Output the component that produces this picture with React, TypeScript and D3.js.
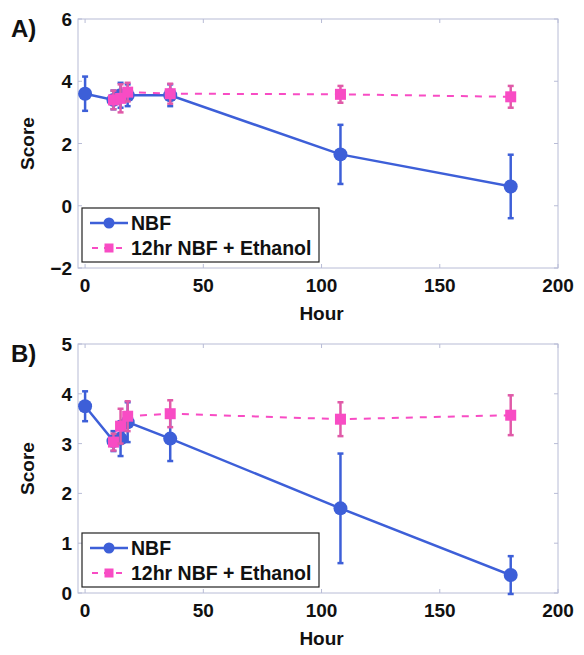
import React from "react";
import * as d3 from "d3";

const hoursNBF = [0, 12, 15, 18, 36, 108, 180];
const hoursEth = [12, 15, 18, 36, 108, 180];

const aNBF = [3.6, 3.4, 3.55, 3.55, 3.55, 1.65, 0.62];
const aNBFErr = [0.55, 0.3, 0.4, 0.35, 0.35, 0.95, 1.02];
const aEth = [3.4, 3.45, 3.65, 3.6, 3.58, 3.5];
const aEthErr = [0.3, 0.45, 0.3, 0.32, 0.27, 0.35];

const bNBF = [3.75, 3.05, 3.1, 3.43, 3.1, 1.7, 0.36];
const bNBFErr = [0.3, 0.2, 0.35, 0.4, 0.45, 1.1, 0.38];
const bEth = [3.03, 3.35, 3.55, 3.6, 3.49, 3.57];
const bEthErr = [0.17, 0.35, 0.3, 0.27, 0.34, 0.4];

const xTicks = [0, 50, 100, 150, 200];
const aYTicks = [-2, 0, 2, 4, 6];
const bYTicks = [0, 1, 2, 3, 4, 5];
const legendLabels = ["NBF", "12hr NBF + Ethanol"];

const BLUE = "#3d5fd8";
const PINK = "#f84cc4";
const PINK_ERR = "#e05aa8";
const FONT = "Liberation Sans, Arial, sans-serif";

type PanelProps = {
  top: number;
  label: string;
  yDomain: [number, number];
  yTicks: number[];
  nbf: number[];
  nbfErr: number[];
  eth: number[];
  ethErr: number[];
  legendTop: number;
};

function Panel({ top, label, yDomain, yTicks, nbf, nbfErr, eth, ethErr, legendTop }: PanelProps) {
  const left = 78, right = 558, h = 249;
  const x = d3.scaleLinear().domain([-3, 200]).range([left, right]);
  const y = d3.scaleLinear().domain(yDomain).range([top + h, top]);
  const line = d3.line<[number, number]>().x((d) => x(d[0])).y((d) => y(d[1]));
  const nbfPts: [number, number][] = hoursNBF.map((t, i) => [t, nbf[i]]);
  const ethPts: [number, number][] = hoursEth.map((t, i) => [t, eth[i]]);
  const clip = `clip-${label}`;
  const cap = 3;
  return (
    <g>
      <defs>
        <clipPath id={clip}>
          <rect x={left} y={top - 8} width={right - left} height={h + 8} />
        </clipPath>
      </defs>
      <text x={11} y={top + 18} fontFamily={FONT} fontWeight="bold" fontSize={24} fill="#111">
        {label}
      </text>
      <rect x={left} y={top} width={right - left} height={h} fill="#fff" stroke="#b8bcd6" strokeWidth={1} />
      {xTicks.map((t) => (
        <g key={"x" + t}>
          <line x1={x(t)} x2={x(t)} y1={top + h} y2={top + h - 4} stroke="#b8bcd6" />
          <line x1={x(t)} x2={x(t)} y1={top} y2={top + 4} stroke="#b8bcd6" />
          <text x={x(t)} y={top + h + 24} textAnchor="middle" fontFamily={FONT} fontWeight="bold" fontSize={19} fill="#111">
            {t}
          </text>
        </g>
      ))}
      {yTicks.map((t) => (
        <g key={"y" + t}>
          <line x1={left} x2={left + 4} y1={y(t)} y2={y(t)} stroke="#b8bcd6" />
          <line x1={right} x2={right - 4} y1={y(t)} y2={y(t)} stroke="#b8bcd6" />
          <text x={left - 6} y={y(t) + 7} textAnchor="end" fontFamily={FONT} fontWeight="bold" fontSize={19} fill="#111">
            {t < 0 ? "\u2212" + Math.abs(t) : t}
          </text>
        </g>
      ))}
      <text
        transform={`translate(34,${top + h / 2}) rotate(-90)`}
        textAnchor="middle"
        fontFamily={FONT}
        fontWeight="bold"
        fontSize={19}
        fill="#111"
      >
        Score
      </text>
      <text x={x(100)} y={top + h + 52} textAnchor="middle" fontFamily={FONT} fontWeight="bold" fontSize={19} fill="#111">
        Hour
      </text>
      <g clipPath={`url(#${clip})`}>
        <path d={line(nbfPts) || ""} fill="none" stroke={BLUE} strokeWidth={2.5} />
        <path d={line(ethPts) || ""} fill="none" stroke={PINK} strokeWidth={2} strokeDasharray="7,7" />
        {hoursNBF.map((t, i) => (
          <g key={"nb" + i}>
            <line x1={x(t)} x2={x(t)} y1={y(nbf[i] - nbfErr[i])} y2={y(nbf[i] + nbfErr[i])} stroke={BLUE} strokeWidth={2.5} />
            <line x1={x(t) - cap} x2={x(t) + cap} y1={y(nbf[i] - nbfErr[i])} y2={y(nbf[i] - nbfErr[i])} stroke={BLUE} strokeWidth={2.5} />
            <line x1={x(t) - cap} x2={x(t) + cap} y1={y(nbf[i] + nbfErr[i])} y2={y(nbf[i] + nbfErr[i])} stroke={BLUE} strokeWidth={2.5} />
            <circle cx={x(t)} cy={y(nbf[i])} r={7} fill={BLUE} />
          </g>
        ))}
        {hoursEth.map((t, i) => (
          <g key={"et" + i}>
            <line x1={x(t)} x2={x(t)} y1={y(eth[i] - ethErr[i])} y2={y(eth[i] + ethErr[i])} stroke={PINK_ERR} strokeWidth={2.5} />
            <line x1={x(t) - cap} x2={x(t) + cap} y1={y(eth[i] - ethErr[i])} y2={y(eth[i] - ethErr[i])} stroke={PINK_ERR} strokeWidth={2.5} />
            <line x1={x(t) - cap} x2={x(t) + cap} y1={y(eth[i] + ethErr[i])} y2={y(eth[i] + ethErr[i])} stroke={PINK_ERR} strokeWidth={2.5} />
            <rect x={x(t) - 5.5} y={y(eth[i]) - 5.5} width={11} height={11} fill={PINK} />
          </g>
        ))}
      </g>
      <g>
        <rect x={82} y={legendTop} width={237} height={54} fill="#fff" stroke="#222" strokeWidth={1.2} />
        <line x1={90} x2={128} y1={legendTop + 15} y2={legendTop + 15} stroke={BLUE} strokeWidth={2.5} />
        <circle cx={109} cy={legendTop + 15} r={5.5} fill={BLUE} />
        <text x={131} y={legendTop + 22} fontFamily={FONT} fontWeight="bold" fontSize={19.5} fill="#111">
          {legendLabels[0]}
        </text>
        <line x1={90} x2={128} y1={legendTop + 40} y2={legendTop + 40} stroke={PINK} strokeWidth={1.8} strokeDasharray="6,6" strokeDashoffset={-2} />
        <rect x={104.5} y={legendTop + 35.5} width={9} height={9} fill={PINK} />
        <text x={131} y={legendTop + 47} fontFamily={FONT} fontWeight="bold" fontSize={19.5} fill="#111">
          {legendLabels[1]}
        </text>
      </g>
    </g>
  );
}

export default function App() {
  return (
    <svg width={584} height={655} style={{ position: "absolute", left: 0, top: 0, background: "#fff" }}>
      <rect width={584} height={655} fill="#fff" />
      <Panel top={19} label="A)" yDomain={[-2, 6]} yTicks={aYTicks} nbf={aNBF} nbfErr={aNBFErr} eth={aEth} ethErr={aEthErr} legendTop={208} />
      <Panel top={344} label="B)" yDomain={[0, 5]} yTicks={bYTicks} nbf={bNBF} nbfErr={bNBFErr} eth={bEth} ethErr={bEthErr} legendTop={533} />
    </svg>
  );
}
